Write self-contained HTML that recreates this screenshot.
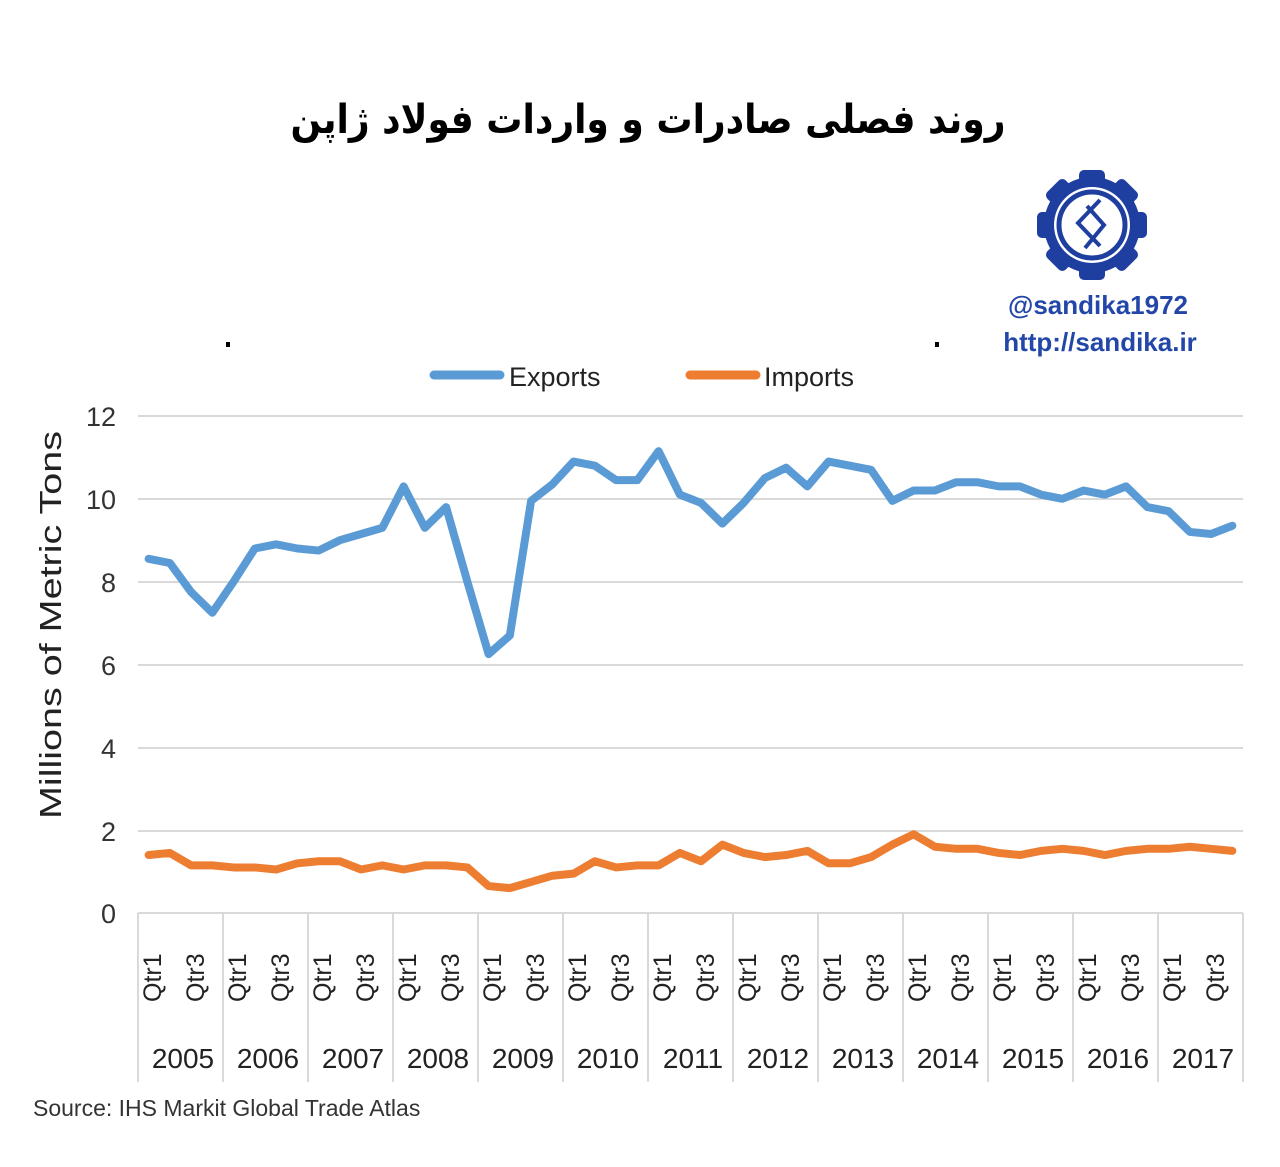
<!DOCTYPE html>
<html><head><meta charset="utf-8"><style>
body{margin:0;background:#fff;width:1280px;height:1162px;overflow:hidden;font-family:"Liberation Sans","Noto Sans CJK SC",sans-serif}
</style></head><body>
<svg width="1280" height="1162" xmlns="http://www.w3.org/2000/svg">
<text x="648" y="133" text-anchor="middle" font-family="'DejaVu Sans','Noto Sans CJK SC',sans-serif" font-weight="bold" font-size="40" direction="rtl" textLength="715" lengthAdjust="spacingAndGlyphs">روند فصلی صادرات و واردات فولاد ژاپن</text>
<!-- logo -->
<g transform="translate(1092,225)" fill="#1e3fa0">
<g>
<rect x="-55" y="-13" width="110" height="26" rx="5"/>
<rect x="-55" y="-13" width="110" height="26" rx="5" transform="rotate(45)"/>
<rect x="-55" y="-13" width="110" height="26" rx="5" transform="rotate(90)"/>
<rect x="-55" y="-13" width="110" height="26" rx="5" transform="rotate(135)"/>
</g>
<circle r="48"/>
<circle r="38" fill="#fff"/>
<circle r="33" fill="none" stroke="#1e3fa0" stroke-width="5"/>
<path d="M8,-25 L-14,-2 L8,21 M-5,-19 L12,0 L-7,23" fill="none" stroke="#1e3fa0" stroke-width="4"/>
</g>
<text x="1098" y="314" text-anchor="middle" font-weight="bold" font-size="26" fill="#2347a8">@sandika1972</text>
<text x="1100" y="351" text-anchor="middle" font-weight="bold" font-size="26" fill="#2347a8">http://sandika.ir</text>
<rect x="226" y="342" width="4" height="5" fill="#000"/>
<rect x="935" y="342" width="4" height="5" fill="#000"/>
<!-- legend -->
<line x1="434" y1="375" x2="500" y2="375" stroke="#5b9bd5" stroke-width="9" stroke-linecap="round"/>
<text x="509" y="386" font-size="27" fill="#222">Exports</text>
<line x1="690" y1="375" x2="756" y2="375" stroke="#ed7d31" stroke-width="9" stroke-linecap="round"/>
<text x="764" y="386" font-size="27" fill="#222">Imports</text>
<!-- grid -->
<g stroke="#d9d9d9" stroke-width="2">
<line x1="138" y1="416" x2="1243" y2="416"/><line x1="138" y1="499" x2="1243" y2="499"/>
<line x1="138" y1="582" x2="1243" y2="582"/><line x1="138" y1="665" x2="1243" y2="665"/>
<line x1="138" y1="748" x2="1243" y2="748"/><line x1="138" y1="831" x2="1243" y2="831"/>
<line x1="138" y1="913" x2="1243" y2="913"/>
<line x1="138" y1="913" x2="138" y2="1082"/><line x1="223" y1="913" x2="223" y2="1082"/>
<line x1="308" y1="913" x2="308" y2="1082"/><line x1="393" y1="913" x2="393" y2="1082"/>
<line x1="478" y1="913" x2="478" y2="1082"/><line x1="563" y1="913" x2="563" y2="1082"/>
<line x1="648" y1="913" x2="648" y2="1082"/><line x1="733" y1="913" x2="733" y2="1082"/>
<line x1="818" y1="913" x2="818" y2="1082"/><line x1="903" y1="913" x2="903" y2="1082"/>
<line x1="988" y1="913" x2="988" y2="1082"/><line x1="1073" y1="913" x2="1073" y2="1082"/>
<line x1="1158" y1="913" x2="1158" y2="1082"/><line x1="1243" y1="913" x2="1243" y2="1082"/>
</g>
<g font-size="27" fill="#333" text-anchor="end">
<text x="116" y="426">12</text><text x="116" y="509">10</text><text x="116" y="592">8</text>
<text x="116" y="675">6</text><text x="116" y="758">4</text><text x="116" y="841">2</text><text x="116" y="923">0</text>
</g>
<text transform="translate(61,625) rotate(-90)" text-anchor="middle" font-size="31" fill="#222" textLength="388" lengthAdjust="spacingAndGlyphs">Millions of Metric Tons</text>
<!-- series -->
<g fill="none" stroke-width="8" stroke-linejoin="round" stroke-linecap="round">
<polyline vector-effect="non-scaling-stroke" stroke="#5b9bd5" transform="translate(148.6,913) scale(21.25,-41.42)" points="0,8.55 1,8.45 2,7.75 3,7.25 4,8 5,8.8 6,8.9 7,8.8 8,8.75 9,9 10,9.15 11,9.3 12,10.3 13,9.3 14,9.8 15,8 16,6.25 17,6.7 18,9.95 19,10.35 20,10.9 21,10.8 22,10.45 23,10.45 24,11.15 25,10.1 26,9.9 27,9.4 28,9.9 29,10.5 30,10.75 31,10.3 32,10.9 33,10.8 34,10.7 35,9.95 36,10.2 37,10.2 38,10.4 39,10.4 40,10.3 41,10.3 42,10.1 43,10 44,10.2 45,10.1 46,10.3 47,9.8 48,9.7 49,9.2 50,9.15 51,9.35"/>
<polyline vector-effect="non-scaling-stroke" stroke="#ed7d31" transform="translate(148.6,913) scale(21.25,-41.42)" points="0,1.4 1,1.45 2,1.15 3,1.15 4,1.1 5,1.1 6,1.05 7,1.2 8,1.25 9,1.25 10,1.05 11,1.15 12,1.05 13,1.15 14,1.15 15,1.1 16,0.65 17,0.6 18,0.75 19,0.9 20,0.95 21,1.25 22,1.1 23,1.15 24,1.15 25,1.45 26,1.25 27,1.65 28,1.45 29,1.35 30,1.4 31,1.5 32,1.2 33,1.2 34,1.35 35,1.65 36,1.9 37,1.6 38,1.55 39,1.55 40,1.45 41,1.4 42,1.5 43,1.55 44,1.5 45,1.4 46,1.5 47,1.55 48,1.55 49,1.6 50,1.55 51,1.5"/>
</g>
<!-- x labels -->
<g font-size="25" fill="#222">
<text transform="translate(161,1002) rotate(-90)">Qtr1</text><text transform="translate(204,1002) rotate(-90)">Qtr3</text>
<text transform="translate(246,1002) rotate(-90)">Qtr1</text><text transform="translate(289,1002) rotate(-90)">Qtr3</text>
<text transform="translate(331,1002) rotate(-90)">Qtr1</text><text transform="translate(374,1002) rotate(-90)">Qtr3</text>
<text transform="translate(416,1002) rotate(-90)">Qtr1</text><text transform="translate(459,1002) rotate(-90)">Qtr3</text>
<text transform="translate(501,1002) rotate(-90)">Qtr1</text><text transform="translate(544,1002) rotate(-90)">Qtr3</text>
<text transform="translate(586,1002) rotate(-90)">Qtr1</text><text transform="translate(629,1002) rotate(-90)">Qtr3</text>
<text transform="translate(671,1002) rotate(-90)">Qtr1</text><text transform="translate(714,1002) rotate(-90)">Qtr3</text>
<text transform="translate(756,1002) rotate(-90)">Qtr1</text><text transform="translate(799,1002) rotate(-90)">Qtr3</text>
<text transform="translate(841,1002) rotate(-90)">Qtr1</text><text transform="translate(884,1002) rotate(-90)">Qtr3</text>
<text transform="translate(926,1002) rotate(-90)">Qtr1</text><text transform="translate(969,1002) rotate(-90)">Qtr3</text>
<text transform="translate(1011,1002) rotate(-90)">Qtr1</text><text transform="translate(1054,1002) rotate(-90)">Qtr3</text>
<text transform="translate(1096,1002) rotate(-90)">Qtr1</text><text transform="translate(1139,1002) rotate(-90)">Qtr3</text>
<text transform="translate(1181,1002) rotate(-90)">Qtr1</text><text transform="translate(1224,1002) rotate(-90)">Qtr3</text>
</g>
<g font-size="28" fill="#222" text-anchor="middle">
<text x="183" y="1068">2005</text><text x="268" y="1068">2006</text><text x="353" y="1068">2007</text>
<text x="438" y="1068">2008</text><text x="523" y="1068">2009</text><text x="608" y="1068">2010</text>
<text x="693" y="1068">2011</text><text x="778" y="1068">2012</text><text x="863" y="1068">2013</text>
<text x="948" y="1068">2014</text><text x="1033" y="1068">2015</text><text x="1118" y="1068">2016</text>
<text x="1203" y="1068">2017</text>
</g>
<text x="33" y="1116" font-size="23" fill="#333">Source: IHS Markit Global Trade Atlas</text>
</svg>
</body></html>
